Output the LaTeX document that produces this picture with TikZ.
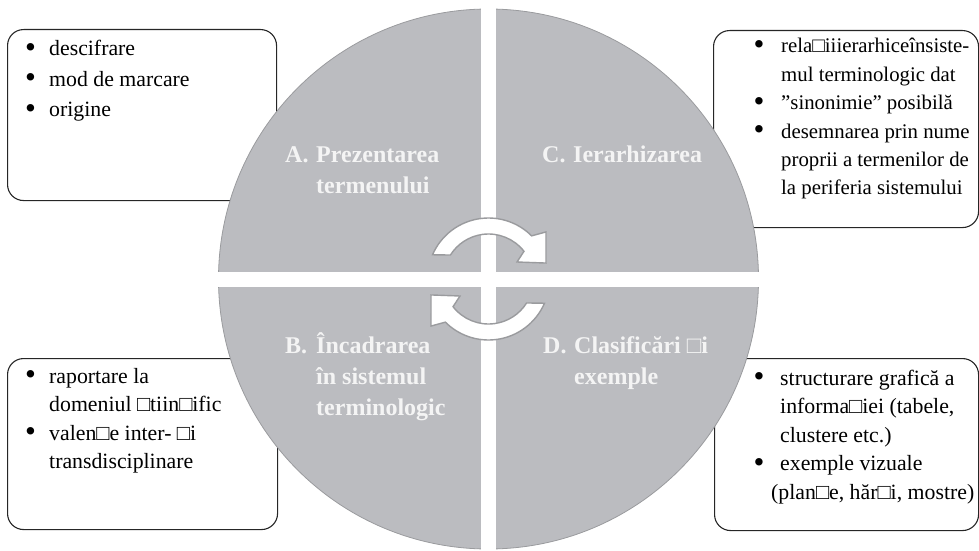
\documentclass[tikz,border=0pt]{standalone}
\usepackage{fontspec}
\setmainfont{Liberation Serif}
\usetikzlibrary{positioning}
\definecolor{quadgray}{HTML}{BBBCC0}
\definecolor{edgegray}{HTML}{9A9B9E}
\definecolor{titlewhite}{HTML}{F4F4F4}
\newcommand{\bul}{\raisebox{-1.5pt}{\fontsize{31}{0}\selectfont\textbullet}}

\begin{document}
\begin{tikzpicture}[x=1pt, y=1pt,
  infobox/.style={draw=black!85, line width=1.1pt, rounded corners=16pt, fill=white, inner sep=0pt, anchor=north west},
  listtext/.style={anchor=base west, inner sep=0pt, font=\fontsize{21.8}{28.5}\selectfont},
  quadtitle/.style={anchor=base west, inner sep=0pt, text=titlewhite, font=\fontsize{24}{31}\selectfont\bfseries},
  cyclearrow/.pic={\draw[fill=white, draw=edgegray, line width=1.4pt]
    (156.6:61) arc[start angle=156.6, end angle=45, radius=61] -- (39.3:74.3) -- (15.5:59.7)
    -- (30.8:33.2) -- (38:45) arc[start angle=38, end angle=147.8, radius=45] -- cycle;}]
  \useasboundingbox (0,0) rectangle (979,550);

  % corner boxes
  \node[infobox, minimum width=269pt, minimum height=171pt] (boxA) at (7,521) {};
  \node[infobox, minimum width=265pt, minimum height=197pt] (boxC) at (713,520) {};
  \node[infobox, minimum width=270pt, minimum height=171pt] (boxB) at (7,192) {};
  \node[infobox, minimum width=264pt, minimum height=172pt] (boxD) at (714,192) {};

  \node[listtext, font=\fontsize{21.8}{30.5}\selectfont] (listA) at ([shift={(18,-27)}]boxA.north west)
    {\begin{tabular}[t]{@{}p{24pt}@{}l@{}}
      \bul & descifrare\\
      \bul & mod de marcare\\
      \bul & origine
    \end{tabular}};
  \node[listtext, font=\fontsize{20.8}{28.4}\selectfont] (listC) at ([shift={(40.5,-23)}]boxC.north west)
    {\begin{tabular}[t]{@{}p{27.5pt}@{}l@{}}
      \bul & rela□iiierarhiceînsiste-\\
           & mul terminologic dat\\
      \bul & ”sinonimie” posibilă\\
      \bul & desemnarea prin nume\\
           & proprii a termenilor de\\
           & la periferia sistemului
    \end{tabular}};
  \node[listtext] (listB) at ([shift={(18,-25)}]boxB.north west)
    {\begin{tabular}[t]{@{}p{24pt}@{}l@{}}
      \bul & raportare la\\
           & domeniul □tiin□ific\\
      \bul & valen□e inter- □i\\
           & transdisciplinare
    \end{tabular}};
  \node[listtext] (listD) at ([shift={(39.5,-27)}]boxD.north west)
    {\begin{tabular}[t]{@{}p{26.5pt}@{}l@{}}
      \bul & structurare grafică a\\
           & informa□iei (tabele,\\
           & clustere etc.)\\
      \bul & exemple vizuale\\
           & \hspace*{-9pt}(plan□e, hăr□i, mostre)
    \end{tabular}};

  % quartered disc
  \coordinate (O) at (488.5,271);
  \fill[quadgray] (O) circle[radius=270];
  \draw[edgegray, line width=0.8pt] (O) circle[radius=270];
  \fill[white] ([shift={(-7.5,-280)}]O) rectangle ([shift={(7.5,280)}]O);
  \fill[white] ([shift={(-280,-7.5)}]O) rectangle ([shift={(280,7.5)}]O);

  \pic at (O) {cyclearrow};
  \pic[rotate=180] at (O) {cyclearrow};

  \node[quadtitle] (titleA) at (285,388)
    {\begin{tabular}[t]{@{}p{31pt}@{}l@{}}A. & Prezentarea\\ & termenului\end{tabular}};
  \node[quadtitle] (titleC) at (542,388)
    {\begin{tabular}[t]{@{}p{31pt}@{}l@{}}C. & Ierarhizarea\end{tabular}};
  \node[quadtitle] (titleB) at (285,197)
    {\begin{tabular}[t]{@{}p{31pt}@{}l@{}}B. & Încadrarea\\ & în sistemul\\ & terminologic\end{tabular}};
  \node[quadtitle] (titleD) at (543,197)
    {\begin{tabular}[t]{@{}p{31pt}@{}l@{}}D. & Clasificări □i\\ & exemple\end{tabular}};
\end{tikzpicture}
\end{document}
